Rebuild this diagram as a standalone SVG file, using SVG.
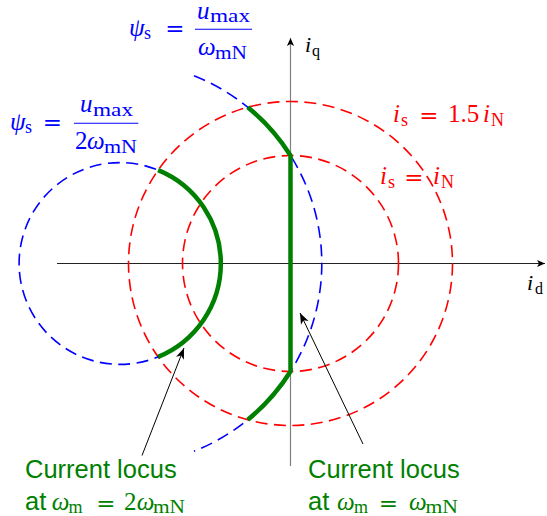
<svg xmlns="http://www.w3.org/2000/svg" width="547" height="516" viewBox="0 0 547 516">
<style>
.red{fill:none;stroke:#ff0000;stroke-width:1.6;stroke-dasharray:12 6.5}
.blue{fill:none;stroke:#0000ff;stroke-width:1.6;stroke-dasharray:12 6.5}
.locus{fill:none;stroke:#008000;stroke-width:4.5;stroke-linejoin:round}
.m{font-family:"Liberation Serif",serif;font-size:25px}
.i{font-style:italic}
.sub{font-family:"Liberation Serif",serif;font-size:18px}
.sub2{font-family:"Liberation Serif",serif;font-size:19px}
.eq{font-family:"DejaVu Serif",serif;font-size:23px;text-anchor:middle}
.ax{font-family:"Liberation Serif",serif;font-size:22px}
.axsub{font-family:"Liberation Serif",serif;font-size:16px}
.sans{font-family:"Liberation Sans",Arial,sans-serif;font-size:25.5px}
.tb{fill:#0000ff}.tr{fill:#ff0000}.tg{fill:#008000}
.conn{fill:none;stroke:#000;stroke-width:1}
</style>
<defs>
<marker id="axarrow" markerUnits="userSpaceOnUse" markerWidth="12" markerHeight="10" viewBox="-9 -5 10 10" refX="0" refY="0" orient="auto">
<path d="M0,0 L-8,-3.6 L-6,0 L-8,3.6 Z" fill="#000"/>
</marker>
<marker id="arr" markerUnits="userSpaceOnUse" markerWidth="14" markerHeight="12" viewBox="-12 -6 13 12" refX="0" refY="0" orient="auto">
<path d="M0,0 L-11,-4.2 L-8,0 L-11,4.2 Z" fill="#000"/>
</marker>
</defs>

<g id="axes">
<line x1="57" y1="263.5" x2="545" y2="263.5" stroke="#222" stroke-width="1" marker-end="url(#axarrow)"/>
<line x1="290.5" y1="466" x2="290.5" y2="38" stroke="#808080" stroke-width="1.2" marker-end="url(#axarrow)"/>
<text class="ax i" x="305" y="52">i</text><text class="axsub" x="312" y="55.5">q</text>
<text class="ax i" x="527" y="290">i</text><text class="axsub" x="535" y="293.5">d</text>
</g>

<g id="current-limits">
<circle class="red" cx="290.5" cy="263.5" r="108"/>
<circle class="red" cx="290.5" cy="263.5" r="162"/>
</g>

<g id="voltage-limits">
<circle class="blue" cx="120" cy="263.5" r="100.9"/>
<path class="blue" d="M193.96 75.74 A201.8 201.8 0 0 1 193.96 451.26"/>
</g>

<g id="locus-2wmN">
<path class="locus" d="M158.1 170.1 A100.9 100.9 0 0 1 158.1 356.9"/>
</g>

<g id="locus-wmN">
<path class="locus" d="M247.7 107.2 A201.8 201.8 0 0 1 290.5 155.5 L290.5 371.5 A201.8 201.8 0 0 1 247.7 419.8"/>
</g>

<g id="label-psi-1" class="tb">
<text class="m i" x="129" y="35.5">ψ</text><text class="sub" x="144" y="39">s</text>
<text class="eq" x="175" y="36">=</text>
<line x1="195" y1="29.3" x2="252" y2="29.3" stroke="#0000ff" stroke-width="1.1"/>
<text class="m i" x="197" y="19">u</text><text class="sub2" x="210" y="22" textLength="40" lengthAdjust="spacingAndGlyphs">max</text>
<text class="m i" x="198" y="55.3">ω</text><text class="sub2" x="215" y="59" textLength="32" lengthAdjust="spacingAndGlyphs">mN</text>
</g>

<g id="label-psi-2" class="tb">
<text class="m i" x="10" y="129.5">ψ</text><text class="sub" x="25" y="133">s</text>
<text class="eq" x="52.5" y="130">=</text>
<line x1="74" y1="123.3" x2="138.3" y2="123.3" stroke="#0000ff" stroke-width="1.1"/>
<text class="m i" x="80" y="112.3">u</text><text class="sub2" x="93" y="115.8" textLength="40" lengthAdjust="spacingAndGlyphs">max</text>
<text class="m" x="75" y="149.3">2</text><text class="m i" x="87" y="149.3">ω</text><text class="sub2" x="104" y="153" textLength="33" lengthAdjust="spacingAndGlyphs">mN</text>
</g>

<g id="label-is-15" class="tr">
<text class="m i" x="393" y="122">i</text><text class="sub" x="401" y="125.5">s</text>
<text class="eq" x="429" y="123">=</text>
<text class="m" x="448" y="122">1.5</text>
<text class="m i" x="483" y="122">i</text><text class="sub" x="491" y="125.5">N</text>
</g>

<g id="label-is-1" class="tr">
<text class="m i" x="380" y="184">i</text><text class="sub" x="388" y="187.5">s</text>
<text class="eq" x="414" y="185">=</text>
<text class="m i" x="433" y="184">i</text><text class="sub" x="441" y="187.5">N</text>
</g>

<g id="label-locus-2" class="tg">
<text class="sans" x="25" y="477.5">Current locus</text>
<text class="sans" x="25" y="509.5">at</text>
<text class="m i" x="51.7" y="509.5">ω</text><text class="sub" x="68.5" y="513">m</text>
<text class="eq" x="106" y="510.5">=</text>
<text class="m" x="124" y="509.5">2</text><text class="m i" x="136.7" y="509.5">ω</text><text class="sub2" x="153" y="513" textLength="32" lengthAdjust="spacingAndGlyphs">mN</text>
</g>

<g id="label-locus-1" class="tg">
<text class="sans" x="308" y="477.5">Current locus</text>
<text class="sans" x="308" y="509.5">at</text>
<text class="m i" x="337" y="509.5">ω</text><text class="sub" x="354" y="513">m</text>
<text class="eq" x="388.5" y="510.5">=</text>
<text class="m i" x="409" y="509.5">ω</text><text class="sub2" x="425.5" y="513" textLength="32.5" lengthAdjust="spacingAndGlyphs">mN</text>
</g>

<g id="connectors">
<line class="conn" x1="142" y1="455.5" x2="184" y2="348" marker-end="url(#arr)"/>
<line class="conn" x1="363" y1="444" x2="300" y2="313" marker-end="url(#arr)"/>
</g>
</svg>
